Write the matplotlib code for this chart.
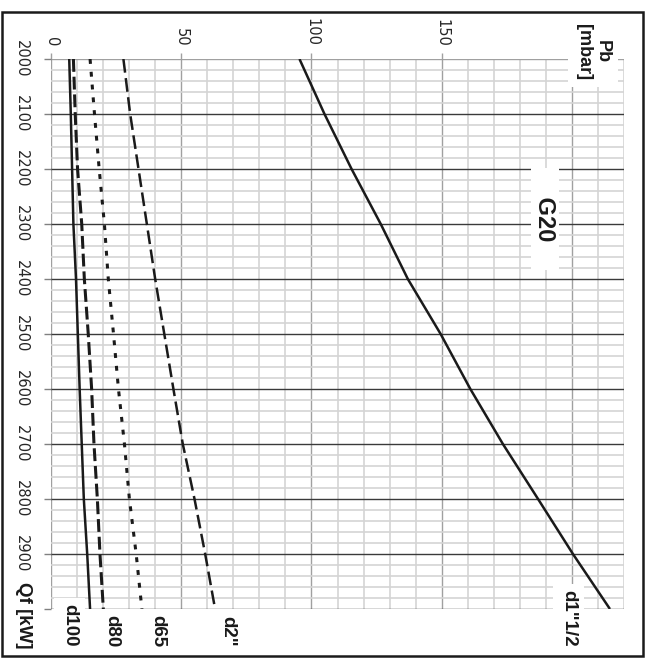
import matplotlib.pyplot as plt
from matplotlib.patches import Rectangle
from matplotlib.ticker import MultipleLocator

# portata termica [kW]
qf = [2000, 2100, 2200, 2300, 2400, 2500, 2600, 2700, 2800, 2900, 3000]

# perdita di carico [mbar] per diametro
pb_d1_1_2 = [95.4, 105.0, 115.4, 126.6, 137.0, 149.6, 161.0, 173.5, 187.0, 200.4, 214.6]
pb_d2     = [27.8, 30.4, 33.6, 36.8, 40.0, 43.5, 47.0, 50.6, 55.1, 59.2, 63.0]
pb_d65    = [15.0, 16.7, 18.5, 20.5, 22.0, 24.0, 25.9, 28.2, 30.1, 32.7, 34.9]
pb_d80    = [8.6, 9.3, 10.2, 11.8, 12.8, 14.3, 15.6, 16.5, 17.8, 18.8, 20.1]
pb_d100   = [7.0, 7.6, 8.1, 8.6, 9.6, 10.3, 11.0, 11.8, 12.6, 13.9, 15.0]

pb_ticks  = [0, 50, 100, 150, 200]
pb_labels = ["0", "50", "100", "150", ""]
qf_ticks  = [2000, 2100, 2200, 2300, 2400, 2500, 2600, 2700, 2800, 2900, 3000]
qf_labels = ["2000", "2100", "2200", "2300", "2400", "2500", "2600", "2700", "2800", "2900", ""]

nomi = ['d1"1/2', 'd2"', "d65", "d80", "d100"]

fig = plt.figure(figsize=(6.48, 6.58), dpi=100)
ax = fig.add_axes([51/648, 1 - 609/658, 573/648, 550/658])

# il grafico e' ruotato di 90 gradi: Pb in orizzontale, Qf in verticale
bold = dict(family="Liberation Sans", weight="bold", rotation=-90, color="#1a1a1a")

ax.plot(pb_d1_1_2, qf, color="#1a1a1a", lw=1.8, solid_capstyle="butt", zorder=3)
ax.plot(pb_d2, qf, color="#1a1a1a", lw=1.8, dashes=(5.5, 2.2), zorder=3)
ax.plot(pb_d65, qf, color="#1a1a1a", lw=2.2, dashes=(1.6, 2.6), zorder=3)
ax.plot(pb_d80, qf, color="#1a1a1a", lw=2.2, dashes=(4.2, 1.6), zorder=3)
ax.plot(pb_d100, qf, color="#1a1a1a", lw=1.8, zorder=3)

ax.set_xlim(0, 220)
ax.set_ylim(3000, 2000)

ax.xaxis.tick_top()
ax.set_xticks(pb_ticks)
ax.set_xticklabels(pb_labels)
ax.set_yticks(qf_ticks)
ax.set_yticklabels(qf_labels)
ax.xaxis.set_minor_locator(MultipleLocator(10))
ax.yaxis.set_minor_locator(MultipleLocator(20))

ax.tick_params(axis="x", which="major", labelrotation=-90, length=4, width=1,
               color="#a0a0a0", pad=5, labelsize=10.5, labelcolor="#262626")
ax.tick_params(axis="y", which="major", labelrotation=-90, length=5, width=1,
               color="#808080", pad=11, labelsize=10.5, labelcolor="#262626")
ax.tick_params(which="minor", length=0)
for lab in ax.get_yticklabels():
    lab.set_va("center")

ax.grid(True, which="minor", color="#d4d4d4", lw=1.2, zorder=0)
ax.grid(True, axis="x", which="major", color="#a0a0a0", lw=1.0, zorder=1)
ax.grid(True, axis="y", which="major", color="#3a3a3a", lw=1.0, zorder=1)
ax.yaxis.get_gridlines()[0].set_color("#a0a0a0")
ax.set_axisbelow(True)
for s in ax.spines.values():
    s.set_visible(False)

# etichette
ax.text(208, 1987, "Pb\n[mbar]", fontsize=13, ha="center", va="center",
        multialignment="center", clip_on=False, zorder=5, linespacing=1.1,
        bbox=dict(boxstyle="square,pad=0.4", fc="white", ec="none"), **bold)
ax.text(189.6, 2291, "    G20    ", fontsize=17, ha="center", va="center", zorder=5,
        bbox=dict(boxstyle="square,pad=0.1", fc="white", ec="none"), **bold)

ax.text(-10.4, 3071, "Qf [kW]", fontsize=13.5, ha="center", va="bottom", clip_on=False, **bold)

pos_nomi = [198.7, 68, 41, 23.5, 7.1]
for nome, x in zip(nomi, pos_nomi):
    box = None
    if nome in ('d1"1/2', "d100"):
        box = dict(boxstyle="square,pad=0.35", fc="white", ec="none")
    ax.text(x, 3069, nome, fontsize=13.5, ha="center", va="bottom",
            clip_on=False, zorder=5, bbox=box, **bold)

# cornice
fig.patches.append(Rectangle((1.5/648, 1 - 656/658), 641.5/648, 644/658,
                             transform=fig.transFigure, fill=False,
                             ec="#1a1a1a", lw=1.8))

fig.savefig("out.png", dpi=100)
